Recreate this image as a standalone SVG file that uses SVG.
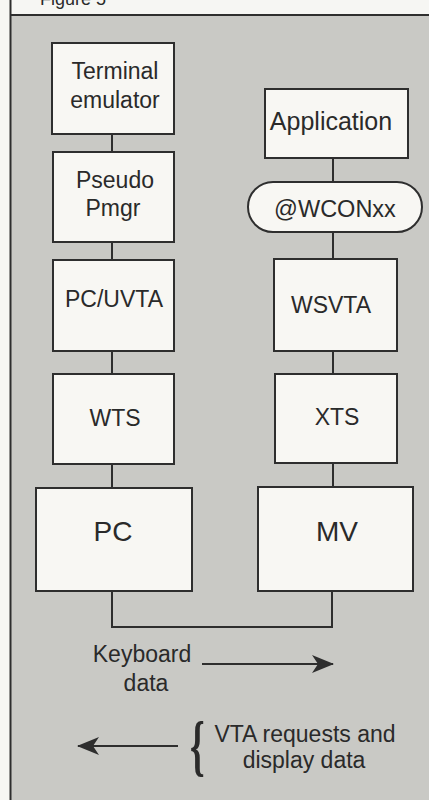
<svg xmlns="http://www.w3.org/2000/svg" width="429" height="800" viewBox="0 0 429 800">
<defs>
<style>
.box{fill:#f8f7f3;stroke:#2e2e2e;stroke-width:2}
.t{font-family:"Liberation Sans",Arial,sans-serif;font-size:23px;fill:#2a2a2a;text-anchor:middle}
.big{font-size:28px}
.con{fill:none;stroke:#2e2e2e;stroke-width:2}
.arr{fill:none;stroke:#2e2e2e;stroke-width:2.2}
</style>
<marker id="ah" viewBox="0 0 22 18" refX="21" refY="9" markerWidth="22" markerHeight="18" markerUnits="userSpaceOnUse" orient="auto">
<path d="M0,0 L22,9 L0,18 L6,9 Z" fill="#2e2e2e"/>
</marker>
</defs>
<rect x="0" y="0" width="429" height="800" fill="#f6f6f3"/>
<rect x="11" y="16" width="418" height="784" fill="#c9c9c5"/>
<line x1="10.5" y1="0" x2="10.5" y2="800" stroke="#2e2e2e" stroke-width="2"/>
<line x1="10" y1="15" x2="429" y2="15" stroke="#2e2e2e" stroke-width="2"/>
<text x="40" y="5" style="font-family:'Liberation Sans',Arial,sans-serif;font-size:18px;fill:#2a2a2a">Figure 5</text>

<g id="connectors">
<line class="con" x1="112" y1="134" x2="112" y2="152"/>
<line class="con" x1="112" y1="242" x2="112" y2="260"/>
<line class="con" x1="112" y1="351" x2="112" y2="374"/>
<line class="con" x1="112" y1="464" x2="112" y2="488"/>
<line class="con" x1="333" y1="158" x2="333" y2="182"/>
<line class="con" x1="333" y1="232" x2="333" y2="259"/>
<line class="con" x1="333" y1="351" x2="333" y2="374"/>
<line class="con" x1="333" y1="463" x2="333" y2="487"/>
<polyline class="con" points="112,591 112,627 332,627 332,591"/>
<line class="arr" x1="202" y1="664" x2="333" y2="664" marker-end="url(#ah)"/>
<line class="arr" x1="178" y1="746" x2="78" y2="746" marker-end="url(#ah)"/>
</g>

<g id="terminal-emulator">
<rect class="box" x="52" y="43" width="122" height="91"/>
<text class="t" x="115" y="79">Terminal</text>
<text class="t" x="115" y="108">emulator</text>
</g>
<g id="pseudo-pmgr">
<rect class="box" x="53" y="152" width="121" height="90"/>
<text class="t" x="115" y="188">Pseudo</text>
<text class="t" x="113" y="216">Pmgr</text>
</g>
<g id="pc-uvta">
<rect class="box" x="53" y="260" width="121" height="91"/>
<text class="t" x="114" y="307">PC/UVTA</text>
</g>
<g id="wts">
<rect class="box" x="53" y="374" width="121" height="90"/>
<text class="t" x="115" y="426">WTS</text>
</g>
<g id="pc">
<rect class="box" x="36" y="488" width="156" height="103"/>
<text class="t big" x="113" y="541">PC</text>
</g>

<g id="application">
<rect class="box" x="265" y="89" width="143" height="69"/>
<text class="t" x="331" y="130" style="font-size:25px">Application</text>
</g>
<g id="wconxx">
<rect class="box" x="248" y="182" width="174" height="50" rx="25" ry="25"/>
<text class="t" x="335" y="217" style="font-size:23.5px">@WCONxx</text>
</g>
<g id="wsvta">
<rect class="box" x="274" y="259" width="123" height="92"/>
<text class="t" x="331" y="313">WSVTA</text>
</g>
<g id="xts">
<rect class="box" x="275" y="374" width="122" height="89"/>
<text class="t" x="337" y="425">XTS</text>
</g>
<g id="mv">
<rect class="box" x="258" y="487" width="155" height="104"/>
<text class="t big" x="337" y="541">MV</text>
</g>

<g id="labels">
<text class="t" x="142" y="662">Keyboard</text>
<text class="t" x="146" y="691">data</text>
<text x="0" y="0" transform="translate(190,768) scale(0.6,1.1)" style="font-family:'Liberation Serif','Times New Roman',serif;font-size:62px;font-weight:bold;fill:#2a2a2a">{</text>
<text class="t" x="305" y="742">VTA requests and</text>
<text class="t" x="304" y="768">display data</text>
</g>
</svg>
